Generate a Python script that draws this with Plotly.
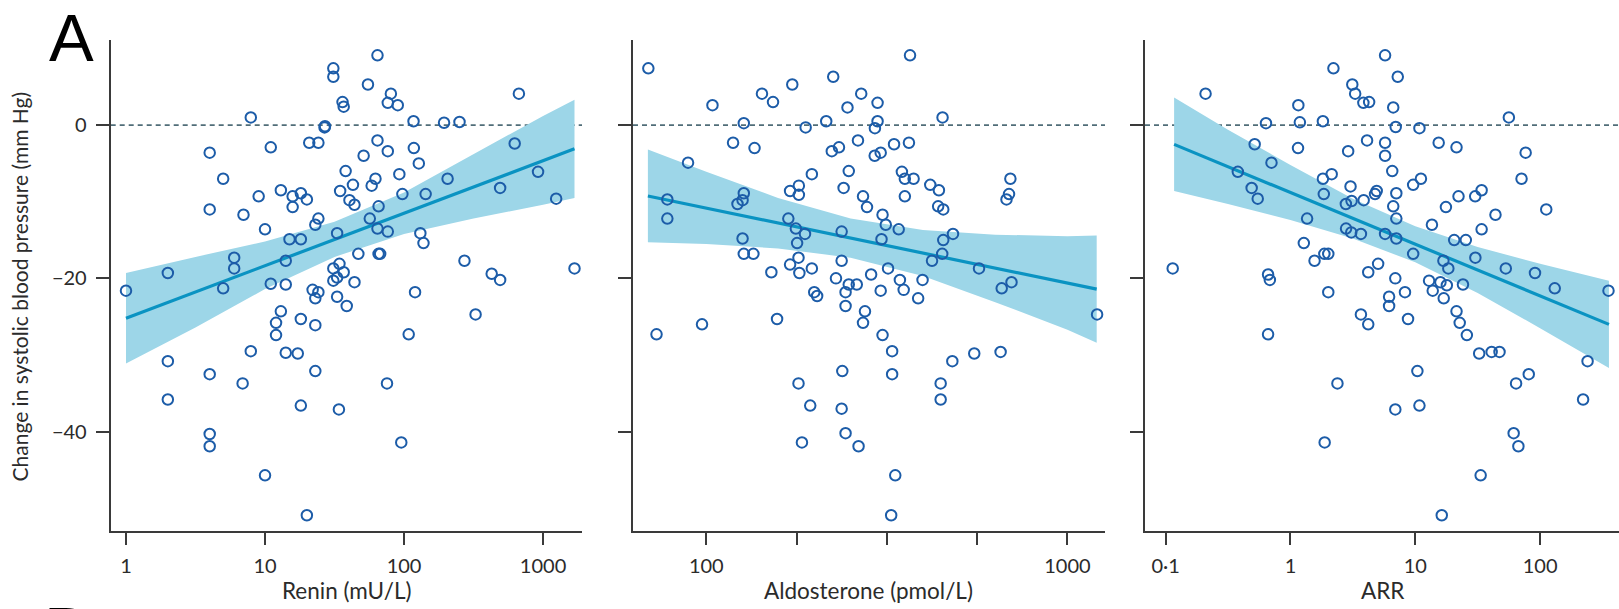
import plotly.graph_objects as go

# ---------------- data ----------------
renin = [1, 2, 2, 2, 4, 4, 4, 4, 4, 5,
         5, 6, 6, 7, 6.9, 7.9, 7.9, 9, 10, 10,
         11, 11, 13, 13, 12, 12, 14.1, 14.1, 14.1, 15,
         15.8, 15.8, 17.2, 18.1, 18.1, 18.1, 18.1, 20, 20, 20.8,
         24.2, 24.2, 23, 22, 24.2, 23, 23, 23, 26.8, 27,
         31, 31, 33, 34.7, 36.1, 36.8, 38, 34.3, 31, 36.8,
         33, 31, 33, 34, 38.7, 40.5, 42.9, 44, 44, 46.9,
         51.2, 55, 56.7, 58.5, 62.3, 64.4, 64.4, 64.4, 65.6, 65.6,
         67.3, 76.4, 76.4, 76.4, 75.4, 80.4, 90.1, 92.5, 97.3, 95.5,
         117, 117.6, 127.7, 131, 138, 120, 108, 143, 194, 205.7,
         250.6, 272, 327, 427, 491, 491, 625, 670, 920, 1242,
         1683]
sbp_renin = [-21.6, -19.3, -30.8, -35.8, -3.6, -11.0, -32.5, -40.3, -41.9, -7.0,
             -21.3, -17.3, -18.7, -11.7, -33.7, 1.0, -29.5, -9.3, -13.6, -45.7,
             -2.9, -20.7, -8.5, -24.3, -25.8, -27.4, -20.8, -17.7, -29.7, -14.9,
             -9.3, -10.7, -29.8, -8.9, -14.9, -25.3, -36.6, -9.7, -50.9, -2.3,
             -2.3, -12.2, -13.0, -21.5, -21.8, -22.6, -26.1, -32.1, -0.3, -0.15,
             7.4, 6.3, -14.1, -8.6, 3.0, 2.4, -6.0, -18.1, -18.7, -19.2,
             -19.9, -20.3, -22.4, -37.1, -23.6, -9.8, -7.8, -10.4, -20.5, -16.8,
             -4.0, 5.3, -12.2, -7.9, -7.0, 9.1, -2.0, -13.5, -10.6, -16.8,
             -16.8, -13.9, 2.9, -3.4, -33.7, 4.1, 2.6, -6.4, -9.0, -41.4,
             0.5, -3.0, -5.0, -14.1, -15.4, -21.8, -27.3, -9.0, 0.3, -7.0,
             0.4, -17.7, -24.7, -19.4, -20.2, -8.2, -2.4, 4.1, -6.1, -9.6,
             -18.7]

aldo = [69.1, 72.8, 78, 78, 89, 97.3, 104, 118.6, 122, 127,
        127, 126, 126, 127, 135, 136, 142.6, 153, 151.4, 157,
        168.7, 173, 170.6, 180.4, 180.4, 177, 178.4, 187.6, 180, 170.6,
        181, 180, 184, 188.4, 194, 196, 196, 199, 202.7, 214.8,
        224.6, 222.6, 233, 237, 237, 228.6, 240, 246, 248, 248,
        243, 243, 238, 237, 243, 261, 263, 268.5, 271.6, 278.6,
        275, 271.6, 264, 286, 292.6, 298, 298, 293, 304, 307.6,
        314, 305.6, 304, 307.6, 318.6, 327, 327, 333.6, 325, 331,
        341, 343.6, 348, 352, 354.6, 354.6, 364, 366.5, 375, 386,
        397, 417, 421.7, 440.6, 438.5, 453, 451, 453, 450, 445.6,
        445.6, 480, 482, 552, 569, 653, 657.6, 700, 678, 689,
        695, 1208]
sbp_aldo = [7.4, -27.3, -9.7, -12.2, -4.9, -26.0, 2.6, -2.3, -10.3, 0.25,
            -8.9, -9.8, -14.8, -16.8, -16.8, -3.0, 4.1, 3.0, -19.2, -25.3,
            -12.2, 5.3, -8.6, -7.9, -9.1, -13.5, -15.4, -14.2, -17.3, -18.2,
            -19.3, -33.7, -41.4, -0.3, -36.6, -6.4, -18.7, -21.8, -22.3, 0.5,
            6.3, -3.4, -2.9, -13.9, -17.7, -20.0, -8.2, 2.3, -6.0, -20.8,
            -21.8, -23.6, -32.1, -37.0, -40.2, -20.8, -2.0, 4.1, -9.3, -10.7,
            -24.3, -25.8, -41.9, -19.5, -4.0, 2.9, 0.5, -0.4, -3.6, -11.7,
            -13.0, -14.9, -21.6, -27.4, -18.7, -29.5, -32.5, -45.7, -50.9, -2.5,
            -13.6, -20.2, -6.1, -21.5, -7.0, -9.3, -2.3, 9.1, -7.0, -22.6,
            -20.2, -7.8, -17.7, -8.5, -10.6, -11.0, 1.0, -15.0, -16.8, -33.7,
            -35.8, -30.8, -14.2, -29.8, -18.7, -29.6, -21.3, -20.5, -9.7, -9.0,
            -7.0, -24.7]

arr = [0.114, 0.209, 0.379, 0.489, 0.517, 0.547, 0.637, 0.662, 0.684, 0.662,
       0.705, 1.157, 1.19, 1.15, 1.36, 1.28, 1.56, 1.82, 1.82, 1.85,
       1.87, 2.01, 2.01, 1.88, 2.14, 2.21, 2.38, 2.78, 2.79, 2.9,
       3.03, 3.09, 3.07, 3.13, 3.3, 3.67, 3.67, 3.86, 3.84, 4.11,
       4.27, 4.2, 4.2, 4.76, 4.91, 5.04, 5.73, 5.73, 5.73, 5.73,
       6.54, 6.66, 6.66, 6.17, 6.17, 6.97, 7.05, 7.05, 7.05, 7.24,
       6.92, 6.92, 8.27, 8.75, 9.62, 9.62, 10.4, 10.8, 11.1, 10.8,
       12.9, 13.8, 13.6, 15.4, 15.9, 16.8, 16.9, 16.3, 17.6, 17.9,
       18.4, 20.5, 21.4, 21.4, 22.2, 22.7, 24.1, 25.4, 25.9, 30.2,
       30.3, 32.5, 33.4, 34, 34, 40.9, 43.9, 47.3, 53.1, 56.2,
       61.4, 64.2, 67, 71, 76.6, 81.1, 91, 112, 131, 221,
       240, 353]
sbp_arr = [-18.7, 4.1, -6.1, -8.2, -2.5, -9.6, 0.25, -19.5, -20.2, -27.3,
           -4.9, 2.6, 0.36, -3.0, -12.2, -15.4, -17.7, 0.5, -7.0, -9.0,
           -16.8, -16.8, -21.8, -41.4, -6.4, 7.4, -33.7, -10.3, -13.5, -3.4,
           -8.0, -9.9, -14.0, 5.3, 4.1, -14.2, -24.7, -9.8, 2.9, -2.0,
           3.0, -19.2, -26.0, -9.0, -8.6, -18.1, -2.3, -4.0, 9.1, -14.2,
           -6.0, 2.3, -10.6, -22.4, -23.6, -0.25, -8.9, -12.2, -14.8, 6.3,
           -20.0, -37.1, -21.8, -25.3, -16.8, -7.8, -32.1, -0.4, -7.0, -36.6,
           -20.3, -21.6, -13.0, -2.3, -20.5, -17.7, -22.6, -50.9, -10.7, -20.9,
           -18.7, -15.0, -2.9, -24.3, -9.3, -25.8, -20.8, -15.0, -27.4, -9.3,
           -17.3, -29.8, -45.7, -8.5, -13.6, -29.6, -11.7, -29.6, -18.7, 1.0,
           -40.2, -33.7, -41.9, -7.0, -3.6, -32.5, -19.3, -11.0, -21.3, -35.8,
           -30.8, -21.6]

# fitted lines (end points) and confidence bands
renin_fit_x = [1, 1683]
renin_fit_y = [-25.2, -3.1]
renin_band_x = [1, 3.16, 10, 31.6, 100, 316, 1000, 1683]
renin_band_hi = [-19.3, -17.2, -15.2, -12.6, -8.8, -3.8, 1.2, 3.3]
renin_band_lo = [-31.1, -26.4, -21.4, -17.2, -14.2, -12.2, -10.4, -9.5]

aldo_fit_x = [68.9, 1205]
aldo_fit_y = [-9.26, -21.4]
aldo_band_x = [68.9, 100, 158, 251, 398, 631, 1000, 1205]
aldo_band_hi = [-3.2, -6.1, -9.5, -12.2, -13.7, -14.3, -14.5, -14.4]
aldo_band_lo = [-15.3, -15.5, -16.1, -17.3, -19.7, -23.1, -26.7, -28.4]

arr_fit_x = [0.117, 356]
arr_fit_y = [-2.52, -26.0]
arr_band_x = [0.117, 0.316, 1, 3.16, 10, 31.6, 100, 356]
arr_band_hi = [3.6, -0.6, -5.2, -9.6, -13.2, -15.9, -18.1, -20.3]
arr_band_lo = [-8.6, -10.3, -12.4, -14.8, -17.9, -21.9, -26.5, -31.7]

x_titles = ["Renin (mU/L)", "Aldosterone (pmol/L)", "ARR"]
y_title = "Change in systolic blood pressure (mm Hg)"
y_ticks = [-40, -20, 0]
y_ticktext = ["\u221240", "\u221220", "0"]
x1_ticks = [1, 10, 100, 1000]
x1_ticktext = ["1", "10", "100", "1000"]
x2_ticks = [100, 177.8, 316.2, 562.3, 1000]
x2_ticktext = ["100", "", "", "", "1000"]
x3_ticks = [0.1, 1, 10, 100]
x3_ticktext = ["0\u00b71", "1", "10", "100"]

# ---------------- styling ----------------
W, H = 1619, 609
MARKER = "#1c5ca8"
LINE = "#0a93c2"
BAND = "rgba(157,214,232,1)"
AXIS = "#3a3a3a"
DASH = "#506d78"
FONT = "Lato"

def px_x(p):
    return p / W

def px_y(p):
    return (H - p) / H

ydom = [px_y(531), px_y(40)]
xdoms = [[px_x(110.7), px_x(582)], [px_x(633), px_x(1105)], [px_x(1145), 1.0]]
xranges = [[-0.110, 3.28], [1.797, 3.104], [-1.165, 2.632]]

fig = go.Figure()

panels = [
    (renin, sbp_renin, renin_fit_x, renin_fit_y, renin_band_x, renin_band_hi, renin_band_lo),
    (aldo, sbp_aldo, aldo_fit_x, aldo_fit_y, aldo_band_x, aldo_band_hi, aldo_band_lo),
    (arr, sbp_arr, arr_fit_x, arr_fit_y, arr_band_x, arr_band_hi, arr_band_lo),
]

for i, (xs, ys, fx, fy, bx, bhi, blo) in enumerate(panels):
    xa = "x" if i == 0 else f"x{i+1}"
    ya = "y" if i == 0 else f"y{i+1}"
    fig.add_trace(go.Scatter(
        x=bx + bx[::-1], y=bhi + blo[::-1], fill="toself", fillcolor=BAND,
        line=dict(width=0), mode="lines", hoverinfo="skip", showlegend=False,
        xaxis=xa, yaxis=ya))
    fig.add_trace(go.Scatter(
        x=fx, y=fy, mode="lines", line=dict(color=LINE, width=3.2),
        showlegend=False, xaxis=xa, yaxis=ya))
    fig.add_trace(go.Scatter(
        x=xs, y=ys, mode="markers",
        marker=dict(symbol="circle-open", size=10.5, color=MARKER,
                    line=dict(width=2, color=MARKER)),
        showlegend=False, xaxis=xa, yaxis=ya, cliponaxis=False))
    fig.add_shape(type="line", xref=f"{xa} domain", yref=ya, x0=0, x1=1, y0=0, y1=0,
                  line=dict(color=DASH, width=1.6, dash="5px,4px"), layer="below")

tick_font = dict(family=FONT, size=20, color="#2b2b2b")
common_y = dict(range=[-52.96, 11.1], domain=ydom, tickvals=y_ticks, ticktext=y_ticktext,
                ticks="outside", ticklen=13, tickwidth=1.8, tickcolor=AXIS,
                showline=True, linewidth=2, linecolor=AXIS, showgrid=False,
                zeroline=False, tickfont=tick_font, fixedrange=True)
common_x = dict(type="log", ticks="outside", ticklen=12, tickwidth=1.8, tickcolor=AXIS,
                showline=True, linewidth=2, linecolor=AXIS, showgrid=False,
                zeroline=False, tickfont=tick_font, ticklabelstandoff=4)

fig.update_layout(
    xaxis=dict(common_x, domain=xdoms[0], range=xranges[0], anchor="y",
               tickvals=x1_ticks, ticktext=x1_ticktext),
    xaxis2=dict(common_x, domain=xdoms[1], range=xranges[1], anchor="y2",
                tickvals=x2_ticks, ticktext=x2_ticktext),
    xaxis3=dict(common_x, domain=xdoms[2], range=xranges[2], anchor="y3",
                tickvals=x3_ticks, ticktext=x3_ticktext),
    yaxis=dict(common_y, anchor="x", ticklabelstandoff=5),
    yaxis2=dict(common_y, anchor="x2", showticklabels=False),
    yaxis3=dict(common_y, anchor="x3", showticklabels=False),
)

annotations = []
for i, t in enumerate(x_titles):
    cx = (xdoms[i][0] + xdoms[i][1]) / 2
    annotations.append(dict(text=t, x=cx, y=px_y(590), xref="paper", yref="paper",
                            showarrow=False, xanchor="center", yanchor="middle",
                            font=dict(family=FONT, size=22.5, color="#2b2b2b")))
annotations.append(dict(text=y_title, x=px_x(19), y=px_y(286.5), xref="paper", yref="paper",
                        showarrow=False, textangle=-90, xanchor="center", yanchor="middle",
                        font=dict(family=FONT, size=21, color="#2b2b2b")))
annotations.append(dict(text="A", x=px_x(71.5), y=px_y(37.5), xref="paper", yref="paper",
                        showarrow=False, xanchor="center", yanchor="middle",
                        font=dict(family="Liberation Sans", size=67, color="#000000")))
annotations.append(dict(text="B", x=px_x(66), y=px_y(630), xref="paper", yref="paper",
                        showarrow=False, xanchor="center", yanchor="middle",
                        font=dict(family="Liberation Sans", size=67, color="#000000")))

fig.update_layout(
    width=W, height=H, autosize=False,
    margin=dict(l=0, r=0, t=0, b=0, pad=0),
    paper_bgcolor="white", plot_bgcolor="white",
    annotations=annotations, showlegend=False,
)

fig.write_html("out.html", config={"displayModeBar": False})
